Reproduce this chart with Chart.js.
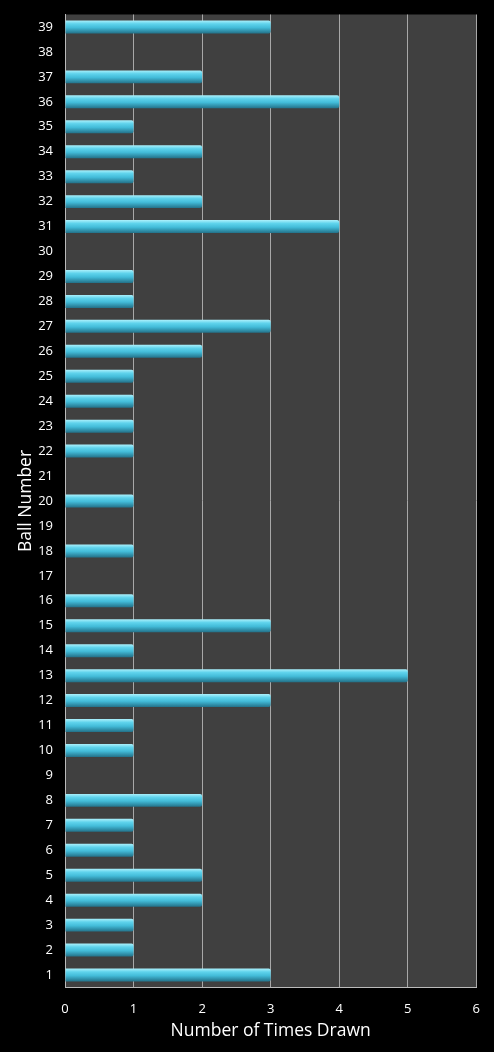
<!DOCTYPE html>
<html><head><meta charset="utf-8">
<script src="https://cdn.jsdelivr.net/npm/chart.js@4/dist/chart.umd.min.js"></script>
<style>html,body{margin:0;padding:0;background:#000;}#wrap{width:494px;height:1052px;}</style>
</head><body><div id="wrap"><canvas id="c" width="494" height="1052"></canvas></div>
<script>
const ballNumbers = ["1","2","3","4","5","6","7","8","9","10","11","12","13","14","15","16","17","18","19","20","21","22","23","24","25","26","27","28","29","30","31","32","33","34","35","36","37","38","39"];
const timesDrawn = [3,1,1,2,2,1,1,2,0,1,1,3,5,1,3,1,0,1,0,1,0,1,1,1,1,2,3,1,1,0,4,2,1,2,1,4,2,0,3];
const xTicks = [0,1,2,3,4,5,6];

const FONT = "'Open Sans', Lato, sans-serif";

const plotBg = {
  id:'plotBg',
  beforeDraw(chart){
    const {ctx, chartArea:a} = chart;
    ctx.save(); ctx.fillStyle = '#404040';
    ctx.fillRect(a.left, a.top, a.right-a.left, a.bottom-a.top);
    ctx.restore();
  }
};

function barFill(context){
  const chart = context.chart;
  const ys = chart.scales && chart.scales.y;
  if (!chart.chartArea || !ys || context.dataIndex === undefined) return '#4bc3df';
  const cy = ys.getPixelForValue(context.dataIndex);
  if (!isFinite(cy)) return '#4bc3df';
  const h = (ys.height / ballNumbers.length) * 0.5;
  const top = cy - h/2, bot = cy + h/2;
  const g = chart.ctx.createLinearGradient(0, top, 0, bot);
  g.addColorStop(0, '#a6eefa');
  g.addColorStop(0.25, '#5fd3ec');
  g.addColorStop(0.55, '#43bcd9');
  g.addColorStop(1, '#24748c');
  return g;
}

new Chart(document.getElementById('c'), {
  type:'bar',
  data:{ labels: ballNumbers, datasets:[{ data: timesDrawn, backgroundColor: barFill, borderWidth:0, borderRadius:2, borderSkipped:'start', categoryPercentage:1, barPercentage:0.52 }]},
  options:{
    indexAxis:'y', responsive:false, animation:false, devicePixelRatio:1,
    layout:{ padding:{ top:14.5, right:15, left:0, bottom:0 } },
    plugins:{ legend:{display:false}, tooltip:{enabled:false} },
    scales:{
      x:{ min:0, max:6, afterBuildTicks(s){ s.ticks = xTicks.map(v=>({value:v})); },
        afterFit(s){ s.height = 64.5; },
        grid:{ color:'#a8a8a8', lineWidth:1, drawTicks:false },
        border:{ color:'#bbbbbb', width:1 },
        ticks:{ color:'#ffffff', font:{family:FONT, size:13}, padding:14 },
        title:{ display:true, text:'Number of Times Drawn', color:'#ffffff', font:{family:FONT, size:17.5}, padding:{top:2, bottom:10} } },
      y:{ reverse:true, afterFit(s){ s.width = 65; s.paddingTop = 0; s.paddingBottom = 0; },
        grid:{ display:false, drawTicks:false },
        border:{ color:'#bbbbbb', width:1 },
        ticks:{ color:'#ffffff', font:{family:FONT, size:13}, padding:12, autoSkip:false },
        title:{ display:true, text:'Ball Number', color:'#ffffff', font:{family:FONT, size:17.5}, padding:{top:16, bottom:4} } }
    }
  },
  plugins:[plotBg]
});
</script></body></html>
